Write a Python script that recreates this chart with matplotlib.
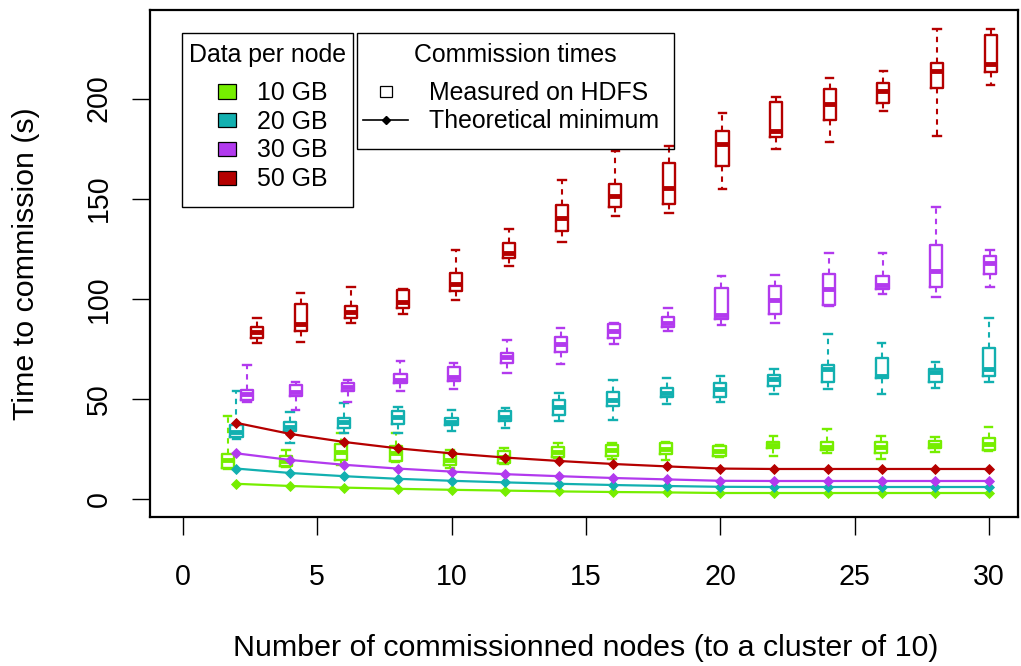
import matplotlib
matplotlib.use("Agg")
import matplotlib.pyplot as plt
from matplotlib.patches import Rectangle
from matplotlib.lines import Line2D

plt.rcParams['font.family'] = ['Liberation Sans', 'DejaVu Sans']

# ---------------- data ----------------
nodes = [2, 4, 6, 8, 10, 12, 14, 16, 18, 20, 22, 24, 26, 28, 30]
series_labels = ["10 GB", "20 GB", "30 GB", "50 GB"]

# box stats per node count: [whisker low, Q1, median, Q3, whisker high]
box_10gb = [
    [14.8, 15.5, 19.5, 22.5, 41.6], [16.2, 16.6, 18.8, 21.7, 24.6],
    [16.8, 19.3, 23.5, 27.4, 33.1], [18.4, 19.2, 22.8, 26.7, 33.0],
    [15.5, 17.2, 19.3, 22.8, 24.6], [17.5, 17.9, 20.8, 24.0, 25.5],
    [20.5, 21.1, 23.6, 26.1, 27.8], [20.0, 21.4, 24.3, 26.9, 28.1],
    [19.6, 22.4, 25.0, 28.1, 28.6], [20.8, 21.4, 24.0, 26.4, 27.0],
    [21.6, 25.6, 27.0, 28.6, 31.4], [22.8, 24.4, 26.0, 28.3, 34.8],
    [19.8, 22.8, 25.8, 28.3, 31.4], [23.6, 25.3, 27.0, 29.1, 31.1],
    [24.0, 24.4, 27.3, 30.3, 36.1],
]
box_20gb = [
    [29.8, 30.8, 33.5, 37.0, 54.0], [28.1, 34.1, 36.2, 38.6, 43.5],
    [32.9, 35.5, 38.6, 40.5, 47.8], [33.2, 37.7, 40.8, 44.0, 46.2],
    [34.0, 36.8, 38.7, 40.4, 44.6], [35.5, 38.8, 40.8, 44.2, 45.5],
    [39.0, 42.2, 46.2, 49.4, 53.0], [39.4, 46.4, 49.4, 53.2, 59.4],
    [47.4, 50.7, 53.0, 55.2, 60.5], [48.2, 50.7, 54.7, 57.7, 61.5],
    [52.2, 56.5, 59.9, 61.8, 64.8], [54.7, 58.2, 64.7, 66.8, 82.6],
    [52.2, 60.2, 61.3, 70.2, 77.7], [55.2, 58.2, 63.2, 64.7, 68.5],
    [58.2, 61.5, 65.0, 75.2, 90.6],
]
box_30gb = [
    [48.5, 49.6, 52.5, 54.2, 67.0], [44.7, 51.4, 53.5, 56.9, 58.5],
    [48.5, 53.8, 55.8, 58.0, 59.4], [54.0, 57.7, 59.6, 62.3, 69.0],
    [54.7, 59.0, 60.8, 65.7, 67.7], [63.1, 68.1, 71.0, 73.1, 79.3],
    [67.3, 73.2, 77.6, 81.0, 85.2], [77.6, 80.6, 83.8, 87.6, 87.9],
    [83.8, 85.9, 87.9, 90.9, 95.6], [86.8, 90.1, 91.8, 105.6, 111.4],
    [87.9, 92.3, 99.4, 106.2, 111.7], [96.5, 96.8, 104.9, 112.2, 123.0],
    [102.2, 104.7, 106.7, 111.4, 123.0], [100.9, 105.9, 113.9, 126.7, 145.8],
    [105.9, 112.6, 117.9, 121.2, 124.5],
]
box_50gb = [
    [78.0, 80.3, 83.5, 86.0, 90.6], [78.5, 83.8, 87.3, 97.3, 102.9],
    [87.9, 90.6, 93.4, 96.4, 105.9], [92.3, 95.4, 98.4, 104.2, 105.1],
    [99.6, 103.7, 107.2, 113.1, 124.5], [116.3, 120.2, 122.7, 128.0, 134.8],
    [128.3, 133.8, 140.5, 146.9, 159.1], [141.3, 145.8, 151.1, 157.1, 173.6],
    [142.8, 147.5, 155.3, 167.7, 176.2], [154.9, 166.2, 177.5, 183.7, 192.7],
    [174.7, 180.7, 184.0, 198.2, 201.0], [178.2, 189.5, 197.5, 204.8, 210.1],
    [194.0, 197.7, 203.6, 207.8, 213.6], [181.2, 205.1, 213.6, 217.8, 234.7],
    [206.5, 213.1, 217.3, 231.9, 234.7],
]

# theoretical minimum per node count
theo_10gb = [7.6, 6.5, 5.7, 5.1, 4.6, 4.2, 3.8, 3.5, 3.3, 3.0, 3.0, 3.0, 3.0, 3.0, 3.0]
theo_20gb = [15.2, 13.0, 11.4, 10.1, 9.1, 8.3, 7.6, 7.0, 6.5, 6.1, 6.0, 6.0, 6.0, 6.0, 6.0]
theo_30gb = [22.8, 19.5, 17.1, 15.2, 13.7, 12.4, 11.4, 10.5, 9.8, 9.1, 9.0, 9.0, 9.0, 9.0, 9.0]
theo_50gb = [38.0, 32.5, 28.5, 25.3, 22.8, 20.7, 19.0, 17.5, 16.3, 15.2, 15.0, 15.0, 15.0, 15.0, 15.0]

x_ticks = [0, 5, 10, 15, 20, 25, 30]
y_ticks = [0, 50, 100, 150, 200]

# ---------------- style ----------------
colors = ["#76EE00", "#12B0B0", "#B23AEE", "#B50000"]
offsets = [-0.66, 0.0, 0.8, 1.54]   # horizontal shift (divided by node count)

TICK_FS = 20.6
LABEL_FS = 21.9
LFS = 17.9

W, H = 1021, 666
fig = plt.figure(figsize=(W / 100, H / 100), dpi=100)
ax = fig.add_axes([150 / W, 1 - 517 / H, 868 / W, 507 / H])


def fx(x):
    return x / W


def fy(y):
    return 1 - y / H


boxes = [box_10gb, box_20gb, box_30gb, box_50gb]
theos = [theo_10gb, theo_20gb, theo_30gb, theo_50gb]

for data, col, off in zip(boxes, colors, offsets):
    stats = [dict(whislo=s[0], q1=s[1], med=s[2], q3=s[3], whishi=s[4], fliers=[])
             for s in data]
    pos = [n + off / n for n in nodes]
    ax.bxp(stats, positions=pos, widths=0.45, capwidths=0.28, showfliers=False,
           manage_ticks=False, patch_artist=False,
           boxprops=dict(color=col, linewidth=1.7),
           medianprops=dict(color=col, linewidth=3.5, solid_capstyle='butt'),
           whiskerprops=dict(color=col, linewidth=1.5, linestyle=(0, (2.6, 2.4))),
           capprops=dict(color=col, linewidth=1.7))

for vals, col in zip(theos, colors):
    ax.plot(nodes, vals, color=col, linewidth=1.6, marker='D', markersize=5.2,
            markeredgewidth=0.6, zorder=5)

ax.set_xlim(-1.216, 31.07)
ax.set_ylim(-8.98, 244.2)
ax.set_xticks(x_ticks)
ax.set_xticklabels([str(v) for v in x_ticks])
ax.set_yticks(y_ticks)
ax.set_yticklabels([str(v) for v in y_ticks], rotation=90, va='center')
ax.tick_params(axis='both', labelsize=TICK_FS, length=13, width=1.0, color='black')
ax.tick_params(axis='x', pad=20)
ax.tick_params(axis='y', pad=14)
for sp in ax.spines.values():
    sp.set_linewidth(1.6)

fig.text(fx(586), fy(656.5), "Number of commissionned nodes (to a cluster of 10)",
         ha='center', va='baseline', fontsize=LABEL_FS)
fig.text(fx(33.6), fy(263.5), "Time to commission (s)", rotation=90,
         rotation_mode='anchor', ha='center', va='baseline', fontsize=LABEL_FS)

# ---------------- legends (drawn manually, R style) ----------------


def frame(x0, y0, x1, y1):
    fig.add_artist(Rectangle((fx(x0), fy(y1)), (x1 - x0) / W, (y1 - y0) / H,
                             transform=fig.transFigure, facecolor='none',
                             edgecolor='black', linewidth=1.0, zorder=10))


frame(182, 32.7, 353.3, 207.3)
fig.text(fx(267.5), fy(61.7), "Data per node", ha='center', va='baseline', fontsize=LFS)
ycent = [91.3, 120.0, 148.8, 177.8]
for lab, col, yc in zip(series_labels, colors, ycent):
    fig.add_artist(Rectangle((fx(226.7 - 9), fy(yc + 7.3)), 18 / W, 14.6 / H,
                             transform=fig.transFigure, facecolor=col,
                             edgecolor='black', linewidth=0.9, zorder=11))
    fig.text(fx(257.3), fy(yc + 8.6), lab, ha='left', va='baseline', fontsize=LFS)

frame(357.3, 33.3, 674.3, 149.3)
fig.text(fx(515.5), fy(61.7), "Commission times", ha='center', va='baseline', fontsize=LFS)
fig.add_artist(Rectangle((fx(386 - 5.8), fy(91.7 + 5.3)), 11.6 / W, 10.6 / H,
                         transform=fig.transFigure, facecolor='white',
                         edgecolor='black', linewidth=0.9, zorder=11))
fig.text(fx(429.3), fy(100), "Measured on HDFS", ha='left', va='baseline', fontsize=LFS)
fig.add_artist(Line2D([fx(363.3), fx(408.3)], [fy(120), fy(120)],
                      transform=fig.transFigure, color='black', linewidth=1.2, zorder=11))
fig.add_artist(Line2D([fx(386)], [fy(120)], transform=fig.transFigure, color='black',
                      marker='D', markersize=3.9, zorder=12))
fig.text(fx(429.3), fy(128.3), "Theoretical minimum", ha='left', va='baseline', fontsize=LFS)

fig.savefig("out.png", dpi=100)
